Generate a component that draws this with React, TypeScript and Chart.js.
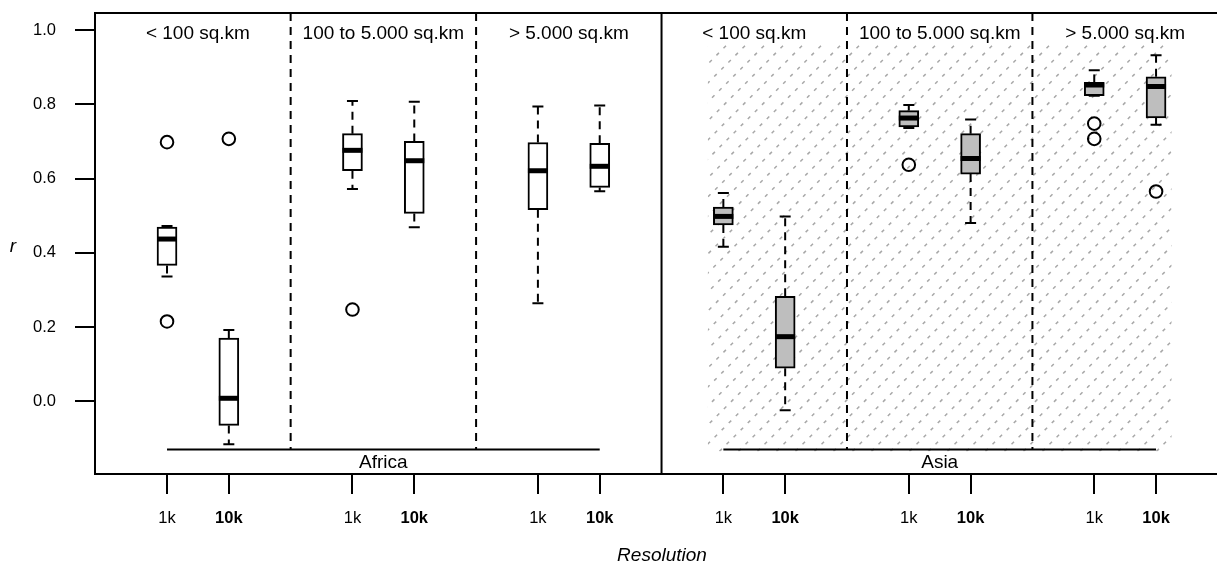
import React, { useEffect, useRef } from 'react';
import { Chart, registerables } from 'chart.js';

Chart.register(...registerables);

const FONT = '"Liberation Sans", Arial, Helvetica, sans-serif';

// ---- data ----
const continents = ['Africa', 'Asia'];
const areaClasses = ['< 100 sq.km', '100 to 5.000 sq.km', '> 5.000 sq.km'];
const positions = [1, 2, 4, 5, 7, 8, 10, 11, 13, 14, 16, 17];
const resolutionLabels = ['1k', '10k', '1k', '10k', '1k', '10k', '1k', '10k', '1k', '10k', '1k', '10k'];
const boxContinent = [0, 0, 0, 0, 0, 0, 1, 1, 1, 1, 1, 1];

const whiskerLow = [0.336, -0.116, 0.572, 0.469, 0.264, 0.566, 0.416, -0.024, 0.736, 0.48, 0.823, 0.745];
const q1 = [0.366, -0.065, 0.621, 0.506, 0.516, 0.576, 0.475, 0.089, 0.739, 0.612, 0.823, 0.763];
const median = [0.437, 0.008, 0.676, 0.648, 0.621, 0.633, 0.498, 0.174, 0.763, 0.654, 0.852, 0.848];
const q3 = [0.469, 0.17, 0.721, 0.7, 0.697, 0.695, 0.523, 0.283, 0.783, 0.721, 0.859, 0.874];
const whiskerHigh = [0.472, 0.192, 0.809, 0.807, 0.794, 0.797, 0.561, 0.498, 0.798, 0.759, 0.892, 0.932];

const outlierPos = [1, 1, 2, 4, 13, 16, 16, 17];
const outlierValue = [0.698, 0.215, 0.707, 0.247, 0.637, 0.748, 0.707, 0.565];

const yTicks = [0, 0.2, 0.4, 0.6, 0.8, 1.0];
const yRange = [-0.196, 1.046];
const xRange = [-0.165, 18.18];

// decoration geometry (data units)
const baselineValue = -0.13;
const areaSeparators = [3, 6, 12, 15];
const continentSeparator = 9;
const hatchX = [9.75, 17.25];
const hatchY = [-0.135, 0.96];

const continentColors = ['#ffffff', '#bebebe'];

const decorPlugin = {
  id: 'decor',
  beforeDatasetsDraw(chart: any) {
    const { ctx, chartArea, scales } = chart;
    const x = scales.x;
    const y = scales.y;
    // hatching (Asia)
    ctx.save();
    const hx0 = x.getPixelForValue(hatchX[0]);
    const hx1 = x.getPixelForValue(hatchX[1]);
    const hyTop = y.getPixelForValue(hatchY[1]);
    const hyBot = y.getPixelForValue(hatchY[0]);
    ctx.beginPath();
    ctx.rect(hx0, hyTop, hx1 - hx0, hyBot - hyTop);
    ctx.clip();
    ctx.strokeStyle = '#a8a8a8';
    ctx.lineWidth = 1.5;
    ctx.setLineDash([3.5, 6.5]);
    const h = hyBot - hyTop;
    for (let sx = hx0 - h; sx < hx1 + 2; sx += 19) {
      ctx.beginPath();
      ctx.moveTo(sx, hyBot);
      ctx.lineTo(sx + h, hyTop);
      ctx.stroke();
    }
    ctx.restore();

    // separators
    ctx.save();
    ctx.strokeStyle = '#000';
    ctx.lineWidth = 2;
    const by = y.getPixelForValue(baselineValue);
    ctx.setLineDash([8, 6]);
    areaSeparators.forEach((v) => {
      const px = x.getPixelForValue(v);
      ctx.beginPath();
      ctx.moveTo(px, chartArea.top);
      ctx.lineTo(px, by);
      ctx.stroke();
    });
    ctx.setLineDash([]);
    const cx = x.getPixelForValue(continentSeparator);
    ctx.beginPath();
    ctx.moveTo(cx, chartArea.top);
    ctx.lineTo(cx, chartArea.bottom);
    ctx.stroke();
    // baselines
    continents.forEach((_, ci) => {
      const ps = positions.filter((_, i) => boxContinent[i] === ci);
      ctx.beginPath();
      ctx.moveTo(x.getPixelForValue(ps[0]), by);
      ctx.lineTo(x.getPixelForValue(ps[ps.length - 1]), by);
      ctx.stroke();
    });

    // whiskers
    positions.forEach((p, i) => {
      const px = x.getPixelForValue(p);
      const yq1 = y.getPixelForValue(q1[i]);
      const yq3 = y.getPixelForValue(q3[i]);
      const ylo = y.getPixelForValue(whiskerLow[i]);
      const yhi = y.getPixelForValue(whiskerHigh[i]);
      ctx.setLineDash([8, 6]);
      ctx.beginPath();
      ctx.moveTo(px, yq3);
      ctx.lineTo(px, yhi);
      ctx.moveTo(px, yq1);
      ctx.lineTo(px, ylo);
      ctx.stroke();
      ctx.setLineDash([]);
      ctx.beginPath();
      ctx.moveTo(px - 5.5, yhi);
      ctx.lineTo(px + 5.5, yhi);
      ctx.moveTo(px - 5.5, ylo);
      ctx.lineTo(px + 5.5, ylo);
      ctx.stroke();
    });
    ctx.restore();
  },
  afterDatasetsDraw(chart: any) {
    const { ctx, scales } = chart;
    const x = scales.x;
    const y = scales.y;
    ctx.save();
    ctx.strokeStyle = '#000';
    ctx.lineWidth = 5;
    positions.forEach((p, i) => {
      const px = x.getPixelForValue(p);
      const ym = y.getPixelForValue(median[i]);
      ctx.beginPath();
      ctx.moveTo(px - 10, ym);
      ctx.lineTo(px + 10, ym);
      ctx.stroke();
    });
    ctx.restore();
  },
  afterDraw(chart: any) {
    const { ctx, chartArea, scales } = chart;
    const x = scales.x;
    const y = scales.y;
    ctx.save();
    ctx.strokeStyle = '#000';
    ctx.lineWidth = 2;
    ctx.strokeRect(chartArea.left, chartArea.top, chartArea.right - chartArea.left, chartArea.bottom - chartArea.top);

    ctx.fillStyle = '#000';
    ctx.textAlign = 'center';
    ctx.textBaseline = 'middle';
    ctx.font = `19px ${FONT}`;
    // area class labels
    continents.forEach((_, ci) => {
      areaClasses.forEach((label, ai) => {
        const idx = ci * 6 + ai * 2;
        const mid = (positions[idx] + positions[idx + 1]) / 2;
        ctx.fillText(label, x.getPixelForValue(mid), chartArea.top + 21);
      });
      const ps = positions.filter((_, i) => boxContinent[i] === ci);
      const cmid = (ps[0] + ps[ps.length - 1]) / 2;
      ctx.fillText(continents[ci], x.getPixelForValue(cmid), y.getPixelForValue(baselineValue) + 13);
    });
    // y axis label
    ctx.font = `italic 19px ${FONT}`;
    ctx.textBaseline = 'alphabetic';
    ctx.fillText('r', 13, 252);
    ctx.restore();
  },
};

export default function App() {
  const ref = useRef<HTMLCanvasElement | null>(null);

  useEffect(() => {
    if (!ref.current) return;
    const chart = new Chart(ref.current, {
      type: 'bar',
      data: {
        datasets: [
          {
            type: 'bar',
            label: 'IQR',
            data: positions.map((p, i) => ({ x: p, y: [q1[i], q3[i]] })) as any,
            backgroundColor: boxContinent.map((c) => continentColors[c]),
            borderColor: '#000',
            borderWidth: 2,
            borderSkipped: false,
            barThickness: 20,
            grouped: false,
          } as any,
          {
            type: 'scatter',
            label: 'Outliers',
            data: outlierPos.map((p, i) => ({ x: p, y: outlierValue[i] })),
            pointRadius: 6.3,
            pointBorderWidth: 2,
            pointBackgroundColor: 'rgba(0,0,0,0)',
            pointBorderColor: '#000',
            showLine: false,
          } as any,
        ],
      },
      options: {
        responsive: false,
        animation: false,
        devicePixelRatio: 1,
        events: [],
        layout: { padding: { top: 13, right: 11, left: 0, bottom: 0 } },
        plugins: {
          legend: { display: false },
          tooltip: { enabled: false },
        },
        scales: {
          x: {
            type: 'linear',
            min: xRange[0],
            max: xRange[1],
            offset: false,
            afterBuildTicks: (s: any) => {
              s.ticks = positions.map((v) => ({ value: v }));
            },
            afterFit: (s: any) => {
              s.height = 91;
              s.paddingLeft = 0;
              s.paddingRight = 0;
              s.paddingTop = 0;
              s.paddingBottom = 0;
            },
            ticks: {
              autoSkip: false,
              maxRotation: 0,
              minRotation: 0,
              padding: 15,
              color: '#000',
              callback: (_v: any, i: number) => resolutionLabels[i],
              font: (c: any) => ({
                family: FONT,
                size: 16.5,
                weight: c.index % 2 === 1 ? 'bold' : 'normal',
              }),
            },
            grid: {
              offset: false,
              drawOnChartArea: false,
              drawTicks: true,
              tickLength: 20,
              color: '#000',
              lineWidth: 2,
            },
            border: { display: false },
            title: {
              display: true,
              text: 'Resolution',
              color: '#000',
              padding: 0,
              font: { family: FONT, size: 19, style: 'italic', lineHeight: 1 },
            },
          } as any,
          y: {
            type: 'linear',
            min: yRange[0],
            max: yRange[1],
            afterBuildTicks: (s: any) => {
              s.ticks = yTicks.map((v) => ({ value: v }));
            },
            afterFit: (s: any) => {
              s.width = 95;
              s.paddingLeft = 0;
              s.paddingRight = 0;
              s.paddingTop = 0;
              s.paddingBottom = 0;
            },
            ticks: {
              padding: 19,
              color: '#000',
              callback: (v: any) => Number(v).toFixed(1),
              font: { family: FONT, size: 16.5 },
            },
            grid: {
              drawOnChartArea: false,
              drawTicks: true,
              tickLength: 20,
              color: '#000',
              lineWidth: 2,
            },
            border: { display: false },
          } as any,
        },
      },
      plugins: [decorPlugin],
    });
    return () => chart.destroy();
  }, []);

  return (
    <div
      style={{
        position: 'absolute',
        left: 0,
        top: 0,
        width: 1217,
        height: 565,
        overflow: 'hidden',
        background: '#fff',
      }}
    >
      <canvas ref={ref} width={1240} height={565} style={{ display: 'block', width: 1240, height: 565 }} />
    </div>
  );
}
